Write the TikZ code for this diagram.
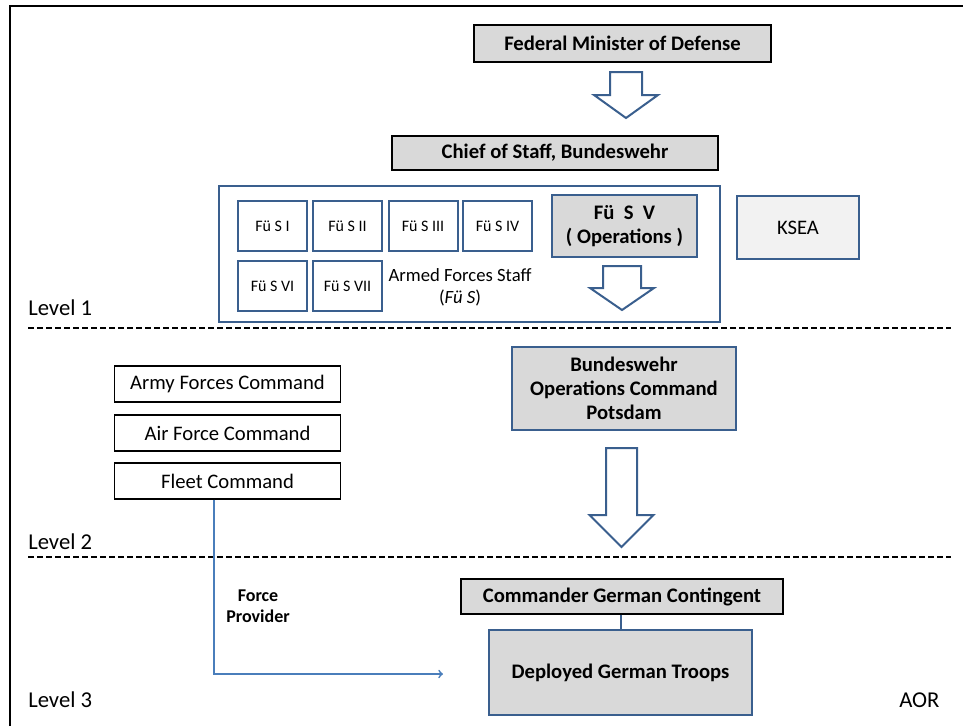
\documentclass[tikz,border=0pt]{standalone}
\usepackage{fontspec}
\setmainfont{Carlito}
\definecolor{boxgray}{HTML}{D9D9D9}
\definecolor{lightgray}{HTML}{F2F2F2}
\definecolor{frameblue}{HTML}{3A5F8E}
\definecolor{linkblue}{HTML}{4A7EBB}
\tikzset{
  graybox/.style={draw=black, line width=0.8pt, fill=boxgray, inner sep=0pt,
    font=\bfseries\fontsize{15.5}{18}\selectfont},
  bluebox/.style={draw=frameblue, line width=1.8pt, fill=boxgray, inner sep=0pt,
    align=center, font=\bfseries\fontsize{15.5}{18}\selectfont},
  fuesbox/.style={draw=frameblue, line width=1.5pt, inner sep=0pt,
    minimum width=51.75pt, minimum height=37.5pt, font=\fontsize{12}{14}\selectfont},
  cmdbox/.style={draw=black, line width=0.8pt, inner sep=0pt,
    minimum width=170pt, minimum height=27pt, font=\fontsize{15.5}{18}\selectfont},
  levellabel/.style={anchor=base west, inner sep=0pt, font=\fontsize{17}{20}\selectfont},
  blockarrow/.style={draw=frameblue, line width=1.5pt, fill=white, line join=miter},
  levelline/.style={line width=1.1pt, dash pattern=on 4.5pt off 2.25pt}
}
\begin{document}
\begin{tikzpicture}[x=0.75pt,y=-0.75pt]
      \useasboundingbox (0,0) rectangle (963,726);
      \draw [line width=1.6pt] (10,726) -- (10,6) -- (963,6);
      % level 1
      \node[graybox, minimum width=222.75pt, minimum height=27.75pt] (fmd) at (622.5,43.5) {Federal Minister of Defense};
      \draw[blockarrow] (610,72) -- (642,72) -- (642,95) -- (658,95) -- (626,118) -- (594,95) -- (610,95) -- cycle;
      \node[graybox, minimum width=244.5pt, minimum height=25.5pt] (cos) at (555,153) {Chief of Staff, Bundeswehr};
      \node[draw=frameblue, line width=1.5pt, minimum width=375.75pt, minimum height=102pt, inner sep=0pt] (staff) at (469.5,254) {};
      \node[fuesbox] (fs1) at (272.5,226) {Fü S I};
      \node[fuesbox] (fs2) at (347.5,226) {Fü S II};
      \node[fuesbox] (fs3) at (423,226) {Fü S III};
      \node[fuesbox] (fs4) at (497.5,226) {Fü S IV};
      \node[fuesbox] (fs6) at (272.5,286) {Fü S VI};
      \node[fuesbox] (fs7) at (347.5,286) {Fü S VII};
      \node[align=center, font=\fontsize{14}{16.5}\selectfont] (stafflabel) at (460,287) {Armed Forces Staff\\(\textit{Fü S})};
      \node[bluebox, minimum width=108.75pt, minimum height=46.5pt] (fs5) at (624.5,226) {Fü\ \ S\ \ V\\( Operations )};
      \draw[blockarrow] (603,266) -- (641,266) -- (641,288) -- (654,288) -- (622,310) -- (590,288) -- (603,288) -- cycle;
      \node[draw=frameblue, line width=1.5pt, fill=lightgray, inner sep=0pt, minimum width=91.5pt, minimum height=47.25pt,
        font=\fontsize{15.5}{18}\selectfont] (ksea) at (798,227.5) {KSEA};
      \node[levellabel] (lev1) at (28,315) {Level 1};
      \draw[levelline] (28,328) -- (951,328);
      % level 2
      \node[cmdbox] (army) at (227.5,384) {Army Forces Command};
      \node[cmdbox] (air) at (227.5,433) {Air Force Command};
      \node[cmdbox] (fleet) at (227.5,481) {Fleet Command};
      \node[bluebox, minimum width=168pt, minimum height=62.25pt] (bwops) at (624,388.5) {Bundeswehr\\Operations Command\\Potsdam};
      \draw[blockarrow] (606,448) -- (637,448) -- (637,515) -- (653.5,515) -- (621.5,547) -- (589.5,515) -- (606,515) -- cycle;
      \node[levellabel] (lev2) at (28,549) {Level 2};
      \draw[levelline] (28,557) -- (951,557);
      % level 3
      \node[graybox, minimum width=241.5pt, minimum height=26.25pt] (cgc) at (622,596.5) {Commander German Contingent};
      \node[bluebox, minimum width=197.25pt, minimum height=63.75pt] (dgt) at (620.5,672.5) {Deployed German Troops};
      \draw[draw=frameblue, line width=1.5pt] (cgc.south -| dgt.north) -- (dgt.north);
      \node[align=center, font=\bfseries\fontsize{13.5}{16}\selectfont] (fp) at (258,606) {Force\\Provider};
      \coordinate (fpturn) at (214,674);
      \coordinate (fpend) at (443,674);
      \draw [>=to, ->, draw=linkblue, line width=1.3pt] (fleet.south -| fpturn) -- (fpturn) -- (fpend);
      \node[levellabel] (lev3) at (28,707) {Level 3};
      \node[anchor=base west, inner sep=0pt, font=\fontsize{17}{20}\selectfont] (aor) at (899,707) {AOR};
\end{tikzpicture}
\end{document}
